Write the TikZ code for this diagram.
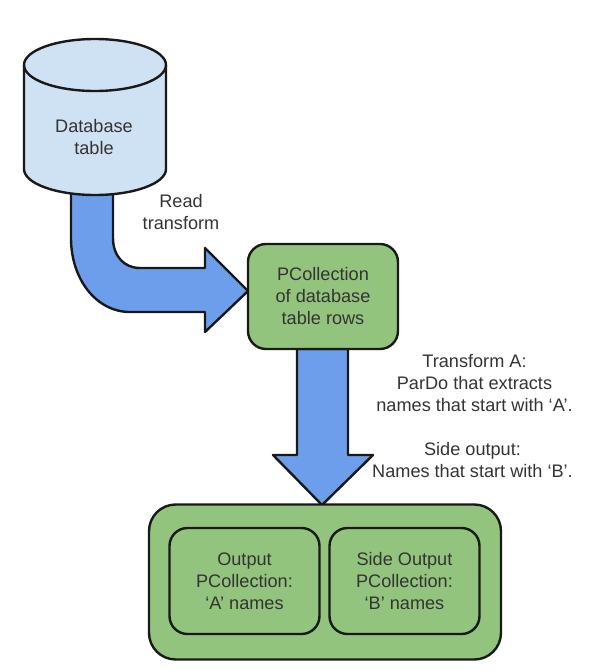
\documentclass[tikz,border=0pt]{standalone}
\usepackage{fontspec}
\setmainfont{Liberation Sans}
\definecolor{cylfill}{HTML}{CFE2F3}
\definecolor{grn}{HTML}{93C47D}
\definecolor{blu}{HTML}{6D9EEB}
\definecolor{txt}{HTML}{333333}
\tikzset{
 px/.style={x=0.75pt,y=-0.75pt},
 outl/.style={draw=black!90,line width=1.8pt,line join=round},
 box/.style={outl,fill=grn,rounded corners=13.5pt,align=center,text=txt,font=\fontsize{13.6}{16.5}\selectfont,inner sep=0pt},
 lab/.style={align=center,text=txt,font=\fontsize{13.6}{16.5}\selectfont,inner sep=0pt}
}
\begin{document}
\begin{tikzpicture}[px]
\useasboundingbox (0,0) rectangle (614,671);
% read arrow
\draw[outl,fill=blu] (71,185) -- (71,238) .. controls (71,280) and (97,312) .. (130,312) -- (205,312) -- (205,332) -- (248,291) -- (205,248) -- (205,268) -- (140,268) .. controls (124,268) and (113,256) .. (113,238) -- (113,185) -- cycle;
% cylinder
\draw[outl,fill=cylfill] (24,65) -- (24,169) arc[start angle=180,end angle=0,x radius=71,y radius=26] -- (166,65) arc[start angle=0,end angle=-180,x radius=71,y radius=26] -- cycle;
\draw[outl] (24,65) arc[start angle=180,end angle=0,x radius=71,y radius=26];
\node[lab] (db) at (94,137.5) {Database\\table};
\node[lab] (readlab) at (181,212) {Read\\transform};
% down arrow
\draw[outl,fill=blu] (297,349) -- (297,455) -- (273,455) -- (322,505) -- (373,455) -- (348,455) -- (348,349) -- cycle;
\node[box,minimum width=150pt*0.75,minimum height=105pt*0.75] (pc) at (323,296.5) {PCollection\\of database\\table rows};
\node[lab] (ta) at (474.5,383) {Transform A:\\ParDo that extracts\\names that start with ‘A’.};
\node[lab] (so) at (472.5,460) {Side output:\\Names that start with ‘B’.};
\node[box,minimum width=352pt*0.75,minimum height=155pt*0.75,rounded corners=20pt] (outer) at (325,582) {};
\node[box,minimum width=150pt*0.75,minimum height=106pt*0.75] (a) at (244.5,581) {Output\\PCollection:\\‘A’ names};
\node[box,minimum width=150pt*0.75,minimum height=106pt*0.75] (b) at (404.5,581) {Side Output\\PCollection:\\‘B’ names};
\end{tikzpicture}
\end{document}
